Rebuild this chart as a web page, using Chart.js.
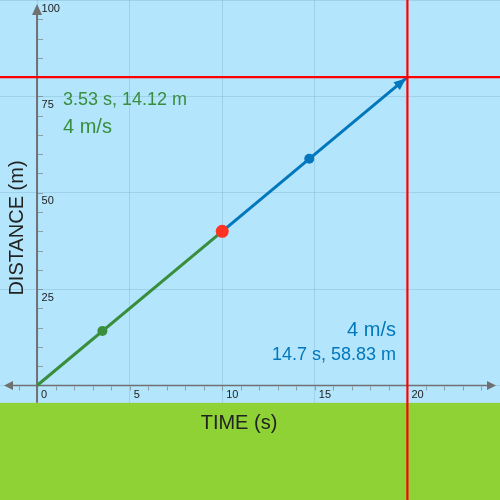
<!DOCTYPE html>
<html>
<head>
<meta charset="utf-8">
<script src="https://cdn.jsdelivr.net/npm/chart.js@4"></script>
<style>
  html, body { margin: 0; padding: 0; background: #b3e5fc; }
  #wrap { width: 500px; height: 500px; position: relative; }
</style>
</head>
<body>
<div id="wrap"><canvas id="motionChart"></canvas></div>
<script>
// time (s) / distance (m) values
var greenTimes = [0, 10];
var greenDists = [0, 40];
var blueTimes = [10, 20];
var blueDists = [40, 80];
var greenDot = [3.53, 14.12];
var blueDot = [14.7, 58.83];
var meetDot = [10, 40];
var target = [20, 80];

var xTickValues = [0, 5, 10, 15, 20];
var xTickLabels = ['0', '5', '10', '15', '20'];
var yTickValues = [25, 50, 75, 100];
var yTickLabels = ['25', '50', '75', '100'];

var greenText = ['3.53 s, 14.12 m', '4 m/s'];
var blueText = ['4 m/s', '14.7 s, 58.83 m'];

var GREEN = '#388e3c';
var BLUE = '#0277bd';
var RED = '#ff0000';
var SKY = '#b3e5fc';
var GROUND = '#8ed236';
var AXIS = '#707070';
var FONT = '"Liberation Sans", Arial, sans-serif';

function pts(xs, ys) {
    return xs.map(function (x, i) { return { x: x, y: ys[i] }; });
}

// sky, ground, axes with arrows and small ticks, labels
var scenePlugin = {
    id: 'scene',
    beforeDraw: function (chart) {
        var c = chart.ctx, a = chart.chartArea;
        c.save();
        c.fillStyle = SKY;
        c.fillRect(a.left, a.top, a.right - a.left, a.bottom - a.top);
        c.restore();
    },
    beforeDatasetsDraw: function (chart) {
        var c = chart.ctx, a = chart.chartArea;
        var xs = chart.scales.x, ys = chart.scales.y;
        var x0 = xs.getPixelForValue(0), y0 = ys.getPixelForValue(0);
        var groundTop = ys.getPixelForValue(-4.5);
        c.save();
        // ground
        c.fillStyle = GROUND;
        c.fillRect(a.left, groundTop, a.right - a.left, a.bottom - groundTop);

        // y axis
        c.strokeStyle = AXIS;
        c.fillStyle = AXIS;
        c.lineWidth = 2;
        c.beginPath();
        c.moveTo(x0, groundTop);
        c.lineTo(x0, a.top + 12);
        c.stroke();
        c.beginPath();
        c.moveTo(x0, a.top + 4);
        c.lineTo(x0 - 5, a.top + 15);
        c.lineTo(x0 + 5, a.top + 15);
        c.closePath();
        c.fill();

        // x axis
        c.lineWidth = 1.5;
        c.beginPath();
        c.moveTo(a.left + 10, y0);
        c.lineTo(a.right - 10, y0);
        c.stroke();
        c.beginPath();
        c.moveTo(a.left + 4, y0);
        c.lineTo(a.left + 13, y0 - 4.5);
        c.lineTo(a.left + 13, y0 + 4.5);
        c.closePath();
        c.fill();
        c.beginPath();
        c.moveTo(a.right - 4, y0);
        c.lineTo(a.right - 13, y0 - 4.5);
        c.lineTo(a.right - 13, y0 + 4.5);
        c.closePath();
        c.fill();

        // small ticks
        c.lineWidth = 1;
        c.strokeStyle = 'rgba(112,112,112,0.6)';
        c.beginPath();
        for (var t = -1; t <= 24; t++) {
            var px = Math.round(xs.getPixelForValue(t)) + 0.5;
            c.moveTo(px, y0 + 1);
            c.lineTo(px, y0 + 5);
        }
        for (var v = 5; v < 100; v += 5) {
            var py = Math.round(ys.getPixelForValue(v)) + 0.5;
            c.moveTo(x0 + 1, py);
            c.lineTo(x0 + 6, py);
        }
        c.stroke();

        // tick labels
        c.fillStyle = '#222';
        c.font = '11px ' + FONT;
        c.textAlign = 'left';
        c.textBaseline = 'middle';
        xTickValues.forEach(function (v, i) {
            c.fillText(xTickLabels[i], xs.getPixelForValue(v) + 4, y0 + 9);
        });
        yTickValues.forEach(function (v, i) {
            c.fillText(yTickLabels[i], x0 + 4.5, ys.getPixelForValue(v) + 8.5);
        });

        // axis titles
        c.font = '20px ' + FONT;
        c.textAlign = 'center';
        c.fillText('TIME (s)', 239, 423);
        c.translate(17, 228);
        c.rotate(-Math.PI / 2);
        c.fillText('DISTANCE (m)', 0, 0);
        c.restore();
    },
    afterDatasetsDraw: function (chart) {
        var c = chart.ctx;
        var xs = chart.scales.x, ys = chart.scales.y;
        // arrow head at the end of the blue line
        var sx = xs.getPixelForValue(blueTimes[0]), sy = ys.getPixelForValue(blueDists[0]);
        var ex = xs.getPixelForValue(blueTimes[1]), ey = ys.getPixelForValue(blueDists[1]);
        var ang = Math.atan2(ey - sy, ex - sx);
        var tipX = ex - 2 * Math.cos(ang), tipY = ey - 2 * Math.sin(ang);
        c.save();
        c.fillStyle = BLUE;
        c.translate(tipX, tipY);
        c.rotate(ang);
        c.beginPath();
        c.moveTo(0, 0);
        c.lineTo(-12, -5);
        c.lineTo(-12, 5);
        c.closePath();
        c.fill();
        c.restore();

        // readouts
        c.save();
        c.textBaseline = 'middle';
        c.fillStyle = GREEN;
        c.textAlign = 'left';
        c.font = '18px ' + FONT;
        c.fillText(greenText[0], 63, 100);
        c.font = '20px ' + FONT;
        c.fillText(greenText[1], 63, 127);
        c.fillStyle = BLUE;
        c.textAlign = 'right';
        c.fillText(blueText[0], 396, 330);
        c.font = '18px ' + FONT;
        c.fillText(blueText[1], 396, 355);
        c.restore();
    }
};

var ctx = document.getElementById('motionChart').getContext('2d');
var myChart = new Chart(ctx, {
    type: 'scatter',
    data: {
        datasets: [
            {
                data: pts([target[0], target[0]], [-40, 120]),
                showLine: true, borderColor: RED, borderWidth: 2.2, pointRadius: 0, order: 0
            },
            {
                data: pts([-5, 30], [target[1], target[1]]),
                showLine: true, borderColor: RED, borderWidth: 2.2, pointRadius: 0, order: 0
            },
            {
                data: pts([meetDot[0]], [meetDot[1]]),
                pointRadius: 6.5, backgroundColor: '#ff3322', borderWidth: 0, order: 1
            },
            {
                data: pts([greenDot[0]], [greenDot[1]]),
                pointRadius: 5, backgroundColor: GREEN, borderWidth: 0, order: 2
            },
            {
                data: pts([blueDot[0]], [blueDot[1]]),
                pointRadius: 5, backgroundColor: BLUE, borderWidth: 0, order: 2
            },
            {
                data: pts(greenTimes, greenDists),
                showLine: true, borderColor: GREEN, borderWidth: 3, pointRadius: 0, order: 3
            },
            {
                data: pts(blueTimes, blueDists),
                showLine: true, borderColor: BLUE, borderWidth: 3, pointRadius: 0, order: 3
            }
        ]
    },
    options: {
        responsive: true,
        maintainAspectRatio: false,
        animation: false,
        events: [],
        layout: { padding: 0, autoPadding: false },
        scales: {
            x: {
                type: 'linear',
                min: -2,
                max: 25,
                ticks: { display: false, stepSize: 5 },
                border: { display: false },
                grid: {
                    drawTicks: false,
                    color: function (c) {
                        return c.tick && c.tick.value % 5 === 0 ? 'rgba(0,60,90,0.11)' : 'transparent';
                    }
                }
            },
            y: {
                type: 'linear',
                min: -29.7,
                max: 100,
                ticks: { display: false, stepSize: 25 },
                border: { display: false },
                grid: {
                    drawTicks: false,
                    color: function (c) {
                        return c.tick && c.tick.value % 25 === 0 ? 'rgba(0,60,90,0.11)' : 'transparent';
                    }
                }
            }
        },
        plugins: {
            legend: { display: false },
            tooltip: { enabled: false }
        }
    },
    plugins: [scenePlugin]
});
</script>
</body>
</html>
